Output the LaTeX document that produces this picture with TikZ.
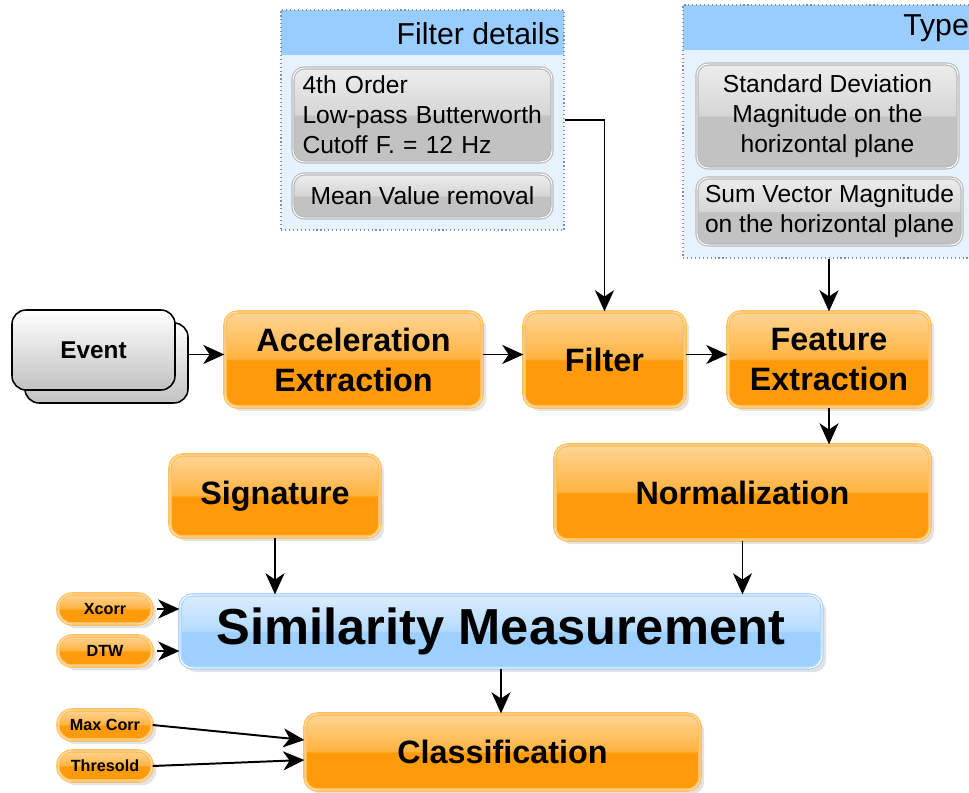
\documentclass[tikz,border=0pt]{standalone}
\usepackage{fontspec}
\setmainfont{Liberation Sans}
\usepackage{xcolor}
\usetikzlibrary{arrows.meta,positioning,shadows}
\definecolor{orangedark}{HTML}{FF9A0A}
\definecolor{orangemid}{HTML}{FFB340}
\definecolor{orangelight}{HTML}{FFD596}
\definecolor{orangeedge}{HTML}{FFBF5E}
\definecolor{orangeinner}{HTML}{FFE2B0}
\definecolor{bluedark}{HTML}{9ED0FF}
\definecolor{bluemid}{HTML}{B5DBFF}
\definecolor{bluelight}{HTML}{DCEEFF}
\definecolor{blueedge}{HTML}{AFD6FF}
\definecolor{headblue}{HTML}{99CCFF}
\definecolor{panelbody}{HTML}{E6F3FF}
\definecolor{paneledge}{HTML}{8090A8}
\definecolor{greydark}{HTML}{C2C2C2}
\definecolor{greymid}{HTML}{D6D6D6}
\definecolor{greylight}{HTML}{EDEDED}
\definecolor{greyedge}{HTML}{B8B8B8}
\pgfdeclareverticalshading{orangegloss}{100bp}{color(0bp)=(orangedark); color(25bp)=(orangedark); color(49.5bp)=(orangedark); color(50.5bp)=(orangemid); color(75bp)=(orangelight); color(100bp)=(orangelight)}
\pgfdeclareverticalshading{bluegloss}{100bp}{color(0bp)=(bluedark); color(25bp)=(bluedark); color(49.5bp)=(bluedark); color(50.5bp)=(bluemid); color(75bp)=(bluelight); color(100bp)=(bluelight)}
\pgfdeclareverticalshading{greygloss}{100bp}{color(0bp)=(greydark); color(25bp)=(greydark); color(49.5bp)=(greydark); color(50.5bp)=(greymid); color(75bp)=(greylight); color(100bp)=(greylight)}
\newdimen\pxu
\pxu=0.025cm
\tikzset{
  flowarrow/.style={-{Stealth[length=15pt,width=13.5pt,inset=4.5pt]}, line width=1.4pt, black},
  orangebox/.style={rounded corners=9pt, shading=orangegloss, draw=orangeedge, double=orangeinner, double distance=0.7pt, line width=0.9pt, align=center, font=\bfseries\fontsize{23}{28.5}\selectfont, drop shadow={opacity=0.22, shadow xshift=3pt, shadow yshift=-3pt}},
  pillbox/.style={orangebox, rounded corners=10pt, font=\bfseries\fontsize{11.5}{13}\selectfont, minimum width=94\pxu, minimum height=30\pxu, inner sep=0pt},
  bluebox/.style={orangebox, shading=bluegloss, draw=blueedge, double=white},
  greybox/.style={rounded corners=8pt, shading=greygloss, draw=greyedge, double=white, double distance=0.7pt, line width=0.8pt, align=center, font=\fontsize{17.5}{21.3}\selectfont, inner sep=2pt},
  eventbox/.style={rounded corners=10pt, draw=black, line width=1.1pt, top color=white, bottom color=greydark, minimum width=163\pxu, minimum height=80\pxu, font=\bfseries\fontsize{17.3}{20}\selectfont},
  panel/.style={draw=paneledge, dotted, line width=0.8pt, fill=panelbody, inner sep=0pt,
    path picture={\fill[headblue] (path picture bounding box.north west) rectangle ([yshift=-#1]path picture bounding box.north east);}},
  headtext/.style={font=\fontsize{21.5}{25}\selectfont, inner sep=0pt}
}
\begin{document}
\begin{tikzpicture}[x=0.025cm, y=-0.025cm]
  \useasboundingbox (0,0) rectangle (969,793);
  % filter details
  \node[panel=45\pxu, minimum width=283\pxu, minimum height=220\pxu] (fdpanel) at (422.5,120) {};
  \node[headtext, anchor=east] (fdtitle) at (560,34) {Filter details};
  \node[greybox, align=left, text width=240\pxu, inner xsep=9.5\pxu, minimum height=94\pxu] (fdorder) at (422.5,115) {4th Order\\Low-pass Butterworth\\Cutoff F. = 12 Hz};
  \node[greybox, minimum width=259\pxu, minimum height=44\pxu] (fdmean) at (422.5,196) {Mean Value removal};
  % feature types
  \node[panel=45\pxu, minimum width=300\pxu, minimum height=253\pxu] (typepanel) at (833,131.5) {};
  \node[headtext, anchor=west] (typetitle) at (903,28) {Type};
  \node[greybox, minimum width=261\pxu, minimum height=104\pxu] (typestd) at (827.5,116) {Standard Deviation\\Magnitude on the\\horizontal plane};
  \node[greybox, minimum width=265\pxu, minimum height=67\pxu] (typesum) at (829.5,211.5) {Sum Vector Magnitude\\on the horizontal plane};
  % main chain
  \node[eventbox] (eventback) at (106.5,363) {};
  \node[eventbox] (event) at (93.5,350) {Event};
  \node[orangebox, minimum width=257\pxu, minimum height=95\pxu] (accel) at (353.5,359.5) {Acceleration\\Extraction};
  \node[orangebox, minimum width=161\pxu, minimum height=95\pxu] (filter) at (604.5,359.5) {Filter};
  \node[orangebox, minimum width=202\pxu, minimum height=95\pxu] (feature) at (829,359.5) {Feature\\Extraction};
  \node[orangebox, minimum width=210\pxu, minimum height=82\pxu] (signature) at (275,496) {Signature};
  \node[orangebox, minimum width=375\pxu, minimum height=95\pxu] (norm) at (742.5,492.5) {Normalization};
  \node[bluebox, font=\bfseries\fontsize{36}{40}\selectfont, minimum width=642\pxu, minimum height=73\pxu] (simil) at (501,631.5) {Similarity Measurement};
  \node[orangebox, minimum width=395\pxu, minimum height=76\pxu] (classif) at (502.5,752) {Classification};
  \node[pillbox] (xcorr) at (105,609) {Xcorr};
  \node[pillbox] (dtw) at (105,651) {DTW};
  \node[pillbox] (maxcorr) at (105,725) {Max Corr};
  \node[pillbox] (thresold) at (105,766) {Thresold};
  % connectors
  \draw[flowarrow] ([yshift=5\pxu]eventback.east |- accel.west) -- ([yshift=5\pxu]accel.west);
  \draw[flowarrow] ([yshift=5\pxu]accel.east) -- ([yshift=5\pxu]filter.west);
  \draw[flowarrow] ([yshift=5\pxu]filter.east) -- ([yshift=5\pxu]feature.west);
  \draw[flowarrow] ([yshift=-5\pxu]fdpanel.east |- fdorder.east) -| (filter.north);
  \draw[flowarrow] (feature.north |- typepanel.south) -- (feature.north);
  \draw[flowarrow] (feature.south) -- (feature.south |- norm.north);
  \draw[flowarrow] (signature.south) -- (signature.south |- simil.north);
  \draw[flowarrow] (norm.south) -- (norm.south |- simil.north);
  \draw[flowarrow, shorten <=3pt] (xcorr.east) -- (simil.west |- xcorr.east);
  \draw[flowarrow, shorten <=3pt] (dtw.east) -- (simil.west |- dtw.east);
  \draw[flowarrow] (simil.south) -- (simil.south |- classif.north);
  \draw[flowarrow] (maxcorr.east) -- ([yshift=12\pxu]classif.west);
  \draw[flowarrow] (thresold.east) -- ([yshift=-8\pxu]classif.west);
\end{tikzpicture}
\end{document}
